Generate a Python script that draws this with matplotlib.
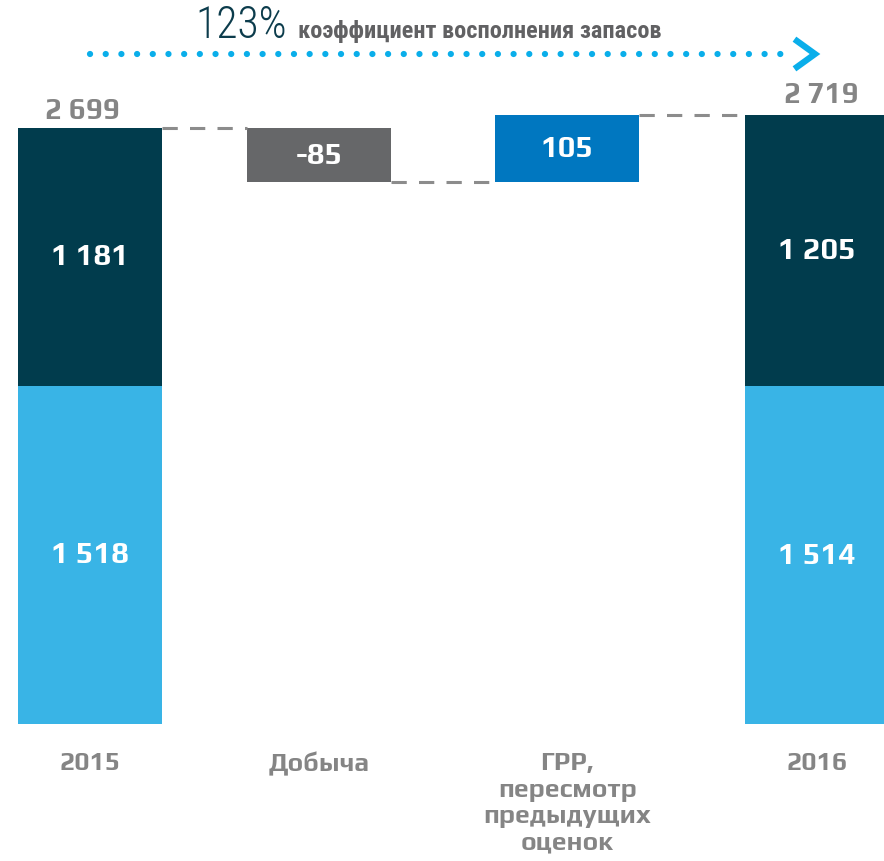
import numpy as np
import matplotlib
matplotlib.use("Agg")
import matplotlib.pyplot as plt

# data
categories = ["2015", "Добыча", "ГРР,\nпересмотр\nпредыдущих\nоценок", "2016"]
base_2015 = [1518, 1181]          # light, dark
base_2016 = [1514, 1205]
total_2015 = 2699
total_2016 = 2719
change_prod = -85
change_grr = 105
replacement = "123%"

C_LIGHT = "#39b4e6"
C_DARK = "#013c4d"
C_GREY = "#666769"
C_BLUE = "#0077c0"
C_TEXT = "#858585"
C_DOTS = "#0aaeea"

SQUARE = ["Play", "DejaVu Sans"]
NARROW = ["Roboto Condensed", "DejaVu Sans"]

# the original chart is not to scale: the top part is stretched
KV = [-1000, 0, 1500, 2590, 2614, 3000]
KP = [-223, 0, 335, 540, 542, 787]


def fwd(v):
    return np.interp(v, KV, KP)


def inv(p):
    return np.interp(p, KP, KV)


def mid(a, b):
    # visual middle of a segment on the stretched scale
    return inv((fwd(a) + fwd(b)) / 2)


def fmt(v):
    return f"{v:,}".replace(",", " ")


W, H = 884, 862
fig = plt.figure(figsize=(W / 100, H / 100), dpi=100)
ax = fig.add_axes([0, 137 / H, 1, 725 / H])
ax.set_yscale("function", functions=(fwd, inv))
ax.set_ylim(0, inv(725))
ax.set_xlim(-90 / 242.3, (W - 90) / 242.3)
ax.axis("off")

x = np.array([0, 0.945, 1.97, 3.0])   # slot positions, as laid out in the original
bw = 0.594
bold = dict(family=SQUARE, fontweight="bold")

# totals
for xi, parts in [(x[0], base_2015), (x[3], base_2016)]:
    ax.bar(xi, parts[0], bw, color=C_LIGHT)
    ax.bar(xi, parts[1], bw, bottom=parts[0], color=C_DARK)
    ax.text(xi, mid(0, parts[0]), fmt(parts[0]), ha="center", va="center",
            color="white", fontsize=22, **bold)
    ax.text(xi, mid(parts[0], parts[0] + parts[1]), fmt(parts[1]), ha="center",
            va="center", color="white", fontsize=22, **bold)

ax.annotate(fmt(total_2015), (x[0] - 0.03, total_2015), xytext=(0, 3),
            textcoords="offset points", ha="center", va="bottom", color=C_TEXT,
            fontsize=21, **bold)
ax.annotate(fmt(total_2016), (x[3] + 0.02, total_2016), xytext=(0, 5),
            textcoords="offset points", ha="center", va="bottom", color=C_TEXT,
            fontsize=21, **bold)

# changes
after_prod = total_2015 + change_prod
ax.bar(x[1], -change_prod, bw, bottom=after_prod, color=C_GREY)
ax.text(x[1], mid(after_prod, total_2015), f"{change_prod}", ha="center", va="center",
        color="white", fontsize=22, **bold)
ax.bar(x[2], change_grr, bw, bottom=after_prod, color=C_BLUE)
ax.text(x[2], mid(after_prod, after_prod + change_grr), f"{change_grr}", ha="center",
        va="center", color="white", fontsize=22, **bold)

# connectors
dash = dict(colors="#8c8c8c", linestyles=(0, (5, 4)), linewidth=2.2)
ax.hlines(total_2015, x[0] + bw / 2, x[1] - bw / 2, **dash)
ax.hlines(after_prod, x[1] + bw / 2, x[2] - bw / 2, **dash)
ax.hlines(after_prod + change_grr, x[2] + bw / 2, x[3] - bw / 2, **dash)

# category labels
for xi, lab in zip(x, categories):
    ax.text(xi, -27 / 725, lab, transform=ax.get_xaxis_transform(), ha="center", va="top",
            color=C_TEXT, fontsize=19, linespacing=1.2, **bold)

# dotted arrow on top
tr = ax.get_xaxis_transform()
ax.plot([0, 2.89], [670 / 725, 670 / 725], transform=tr, color=C_DOTS, lw=4.5,
        linestyle=(0, (0.01, 2.5)), dash_capstyle="round", clip_on=False)
ax.plot([(797 - 90) / 242.3, (815 - 90) / 242.3, (797 - 90) / 242.3],
        [683 / 725, 670 / 725, 657 / 725], transform=tr, color=C_DOTS, lw=4.5,
        solid_joinstyle="miter", clip_on=False)

fig.text(195 / W, 1 - 38 / H, replacement, ha="left", va="baseline", color="#0c3c4c",
         fontsize=31.5, fontweight=300, family=NARROW)
fig.text(298 / W, 1 - 38 / H, "коэффициент восполнения запасов", ha="left", va="baseline",
         color="#616163", fontsize=17.5, fontweight="bold", family=NARROW)

fig.savefig("out.png", dpi=100)
